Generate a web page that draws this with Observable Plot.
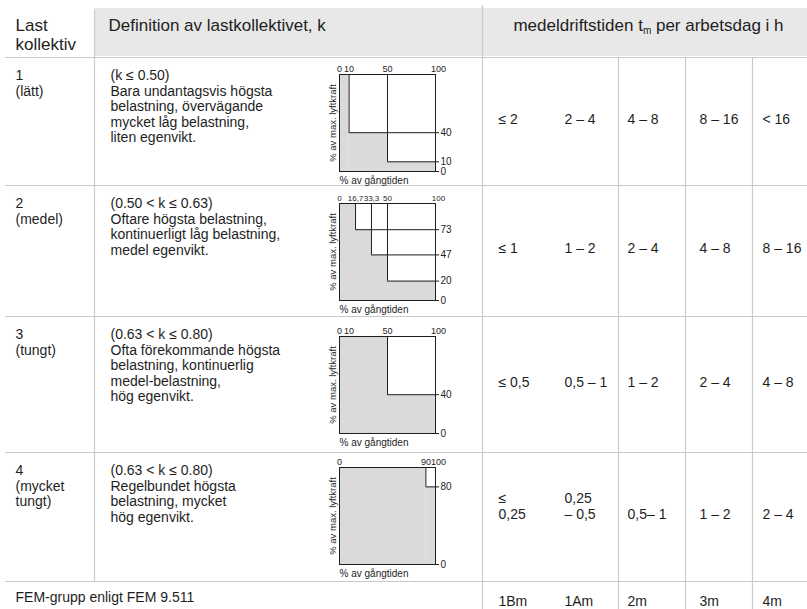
<!DOCTYPE html>
<html><head><meta charset="utf-8">
<script src="https://cdn.jsdelivr.net/npm/d3@7"></script>
<script src="https://cdn.jsdelivr.net/npm/@observablehq/plot@0.6"></script>
<style>
html,body{margin:0;padding:0;background:#fff;}
#wrap{position:relative;width:807px;height:609px;overflow:hidden;}
#wrap .diag{position:absolute;}
</style></head>
<body><div id="wrap"></div>
<script>
// ---------- data ----------
const headerTexts = ["Last\nkollektiv", "Definition av lastkollektivet, k", "medeldriftstiden tm per arbetsdag i h"];
const rowIds = ["1", "2", "3", "4"];
const rowNames = ["(lätt)", "(medel)", "(tungt)", "(mycket\ntungt)"];
const kRanges = ["(k ≤ 0.50)", "(0.50 < k ≤ 0.63)", "(0.63 < k ≤ 0.80)", "(0.63 < k ≤ 0.80)"];
const definitions = [
  "Bara undantagsvis högsta\nbelastning, övervägande\nmycket låg belastning,\nliten egenvikt.",
  "Oftare högsta belastning,\nkontinuerligt låg belastning,\nmedel egenvikt.",
  "Ofta förekommande högsta\nbelastning, kontinuerlig\nmedel-belastning,\nhög egenvikt.",
  "Regelbundet högsta\nbelastning, mycket\nhög egenvikt."
];
const runtimes1 = ["≤ 2", "2 – 4", "4 – 8", "8 – 16", "< 16"];
const runtimes2 = ["≤ 1", "1 – 2", "2 – 4", "4 – 8", "8 – 16"];
const runtimes3 = ["≤ 0,5", "0,5 – 1", "1 – 2", "2 – 4", "4 – 8"];
const runtimes4 = ["≤\n0,25", "0,25\n– 0,5", "0,5– 1", "1 – 2", "2 – 4"];
const femLabel = "FEM-grupp enligt FEM 9.511";
const femGroups = ["1Bm", "1Am", "2m", "3m", "4m"];
// load spectrum diagrams: % of running time where each load level starts, and load level (% of max lifting force)
const stepTimes = [[0, 10, 50], [0, 16.7, 33.3, 50], [0, 50], [0, 90]];
const stepLoads = [[100, 40, 10], [100, 73, 47, 20], [100, 40], [100, 80]];
const timeTicks = [[0, 10, 50, 100], [0, 16.7, 33.3, 50, 100], [0, 10, 50, 100], [0, 90, 100]];
const yAxisLabel = "% av max. lyftkraft";
const xAxisLabel = "% av gångtiden";

// ---------- layout ----------
const W = 807, H = 609;
const FONT = "'Liberation Sans', Arial, Helvetica, sans-serif";
const INK = "#1e1e1e";
const rowLines = [57, 185, 316, 452, 581];
const leftLine = 94, midLine = 482, valueLines = [618, 685, 752];
const labelX = 15, defX = 110;
const valueX = [498, 564, 627, 699, 762];
const diagTop = [74, 203, 336, 467];
const topTickFont = [9, 8, 9, 9];
const frameW = 96, frameH = 97, frameLeft = 339;
const mL = 20, mR = 26, mT = 16, mB = 16;

const runtimes = [runtimes1, runtimes2, runtimes3, runtimes4];
const rows = rowIds.map((id, i) => ({
  i, head: id + "\n" + rowNames[i], def: kRanges[i] + "\n" + definitions[i],
  top: rowLines[i], mid: (rowLines[i] + rowLines[i + 1]) / 2
}));
const cells = [];
runtimes.forEach((r, i) => r.forEach((t, j) => cells.push({row: i, col: j, text: t})));
const femCells = femGroups.map((t, j) => ({col: j, text: t}));

const wrap = document.getElementById("wrap");

const table = Plot.plot({
  width: W, height: H, margin: 0,
  x: {type: "identity", axis: null},
  y: {type: "identity", axis: null},
  style: {fontFamily: FONT, color: INK, background: "#fff"},
  marks: [
    Plot.rect([0], {x1: leftLine, x2: W, y1: 8, y2: 56, fill: "#e8e8e8"}),
    Plot.ruleY(rowLines, {y: d => d, x1: 5, x2: W, stroke: "#c9c9c9", strokeWidth: 1.2}),
    Plot.ruleX([leftLine], {x: d => d, y1: 10, y2: rowLines[4], stroke: "#c9c9c9", strokeWidth: 1.2}),
    Plot.ruleX([midLine], {x: d => d, y1: 5, y2: H, stroke: "#c9c9c9", strokeWidth: 1.2}),
    Plot.ruleX(valueLines, {x: d => d, y1: rowLines[0], y2: H, stroke: "#c9c9c9", strokeWidth: 1.2}),
    // header
    Plot.text([headerTexts[0]], {x: labelX, y: 25, text: d => d, textAnchor: "start", lineAnchor: "middle", fontSize: 17, lineHeight: 1.08, dy: 9}),
    Plot.text([headerTexts[1]], {x: defX - 2, y: 25, text: d => d, textAnchor: "start", lineAnchor: "middle", fontSize: 17}),
    Plot.text([headerTexts[2]], {x: 648, y: 25, text: d => d, textAnchor: "middle", lineAnchor: "middle", fontSize: 17}),
    // rows
    Plot.text(rows, {x: labelX, y: d => d.top + 12, text: "head", textAnchor: "start", lineAnchor: "top", fontSize: 14, lineHeight: 1.1}),
    Plot.text(rows, {x: defX, y: d => d.top + 12, text: "def", textAnchor: "start", lineAnchor: "top", fontSize: 14, lineHeight: 1.1}),
    Plot.text(cells, {x: d => valueX[d.col], y: d => rows[d.row].mid + 2, text: "text", textAnchor: "start", lineAnchor: "bottom", fontSize: 14, lineHeight: 1.15}),
    // bottom row
    Plot.text([femLabel], {x: labelX, y: 597, text: d => d, textAnchor: "start", lineAnchor: "middle", fontSize: 14}),
    Plot.text(femCells, {x: d => valueX[d.col], y: 601, text: "text", textAnchor: "start", lineAnchor: "middle", fontSize: 14})
  ]
});
wrap.appendChild(table);

// subscript m in header
d3.select(table).selectAll("text").filter(function () { return this.textContent === headerTexts[2]; })
  .each(function () {
    const t = d3.select(this);
    t.text(null);
    t.append("tspan").text("medeldriftstiden t");
    t.append("tspan").attr("font-size", 10).attr("dy", 3).text("m");
    t.append("tspan").attr("dy", -3).text(" per arbetsdag i h");
  });

const fmt = d => String(d).replace(".", ",");

stepTimes.forEach((times, i) => {
  const steps = times.map((t, j) => ({t, load: stepLoads[i][j], end: j + 1 < times.length ? times[j + 1] : 100}));
  const loadTicks = [...stepLoads[i].slice(1), 0];
  const chart = Plot.plot({
    width: mL + frameW + mR, height: mT + frameH + mB,
    marginLeft: mL, marginRight: mR, marginTop: mT, marginBottom: mB,
    x: {domain: [0, 100]}, y: {domain: [0, 100]},
    style: {fontFamily: FONT, color: INK, background: "transparent", overflow: "visible"},
    marks: [
      Plot.rect(steps, {x1: "t", x2: "end", y1: 0, y2: "load", fill: "#dadada"}),
      Plot.ruleX(steps.slice(1), {x: "t", y1: "load", y2: 100, stroke: INK}),
      Plot.ruleY(steps.slice(1), {y: "load", x1: "t", x2: 100, stroke: INK}),
      Plot.frame({stroke: INK}),
      Plot.axisX(timeTicks[i].filter(t => t < 100), {anchor: "top", tickSize: 0, tickPadding: 3, tickFormat: fmt, fontSize: topTickFont[i], label: null}),
      Plot.axisX([100], {anchor: "top", tickSize: 0, tickPadding: 3, tickFormat: fmt, fontSize: topTickFont[i], label: null, dx: 3}),
      Plot.axisY(loadTicks, {anchor: "right", tickSize: 3, tickPadding: 2, tickFormat: fmt, fontSize: 10, label: null}),
      Plot.text([yAxisLabel], {frameAnchor: "left", textAnchor: "middle", rotate: -90, dx: -7, text: d => d, fontSize: 9.5}),
      Plot.text([xAxisLabel], {frameAnchor: "bottom-left", textAnchor: "start", lineAnchor: "middle", dy: 9, text: d => d, fontSize: 10})
    ]
  });
  const div = document.createElement("div");
  div.className = "diag";
  div.style.left = (frameLeft - mL) + "px";
  div.style.top = (diagTop[i] - mT) + "px";
  div.appendChild(chart);
  wrap.appendChild(div);
});
</script>
</body></html>
